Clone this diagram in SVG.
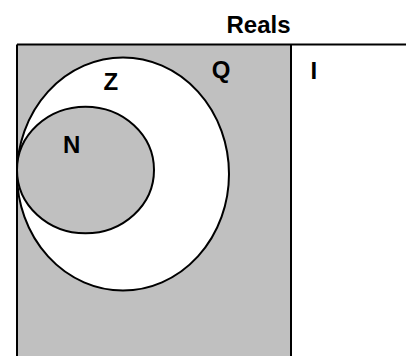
<svg xmlns="http://www.w3.org/2000/svg" width="406" height="356" viewBox="0 0 406 356">
<style>
.lbl{font-family:"Liberation Sans",Arial,sans-serif;font-weight:bold;font-size:24px;fill:#000}
.ln{stroke:#000;stroke-width:2;fill:none}
.set{stroke:#000;stroke-width:2}
</style>
<rect x="0" y="0" width="406" height="356" fill="#fff"/>
<g id="reals">
<text class="lbl" x="226.5" y="32.7">Reals</text>
</g>
<g id="rationals">
<rect x="17" y="44.5" width="274" height="312" fill="#c0c0c0"/>
<text class="lbl" x="211.7" y="77.5">Q</text>
</g>
<g id="irrationals">
<text class="lbl" x="310.5" y="79">I</text>
</g>
<g id="integers">
<ellipse class="set" cx="123" cy="174" rx="106" ry="116.5" fill="#fff"/>
<text class="lbl" x="103.5" y="90">Z</text>
</g>
<g id="naturals">
<ellipse class="set" cx="85.5" cy="170" rx="68.5" ry="63.3" fill="#c0c0c0"/>
<text class="lbl" x="63" y="153.3">N</text>
</g>
<g id="frame">
<line class="ln" x1="17" y1="44.5" x2="406" y2="44.5"/>
<line class="ln" x1="17" y1="44.5" x2="17" y2="356"/>
<line class="ln" x1="291" y1="44.5" x2="291" y2="356"/>
</g>
<g id="connectors"></g>
</svg>
